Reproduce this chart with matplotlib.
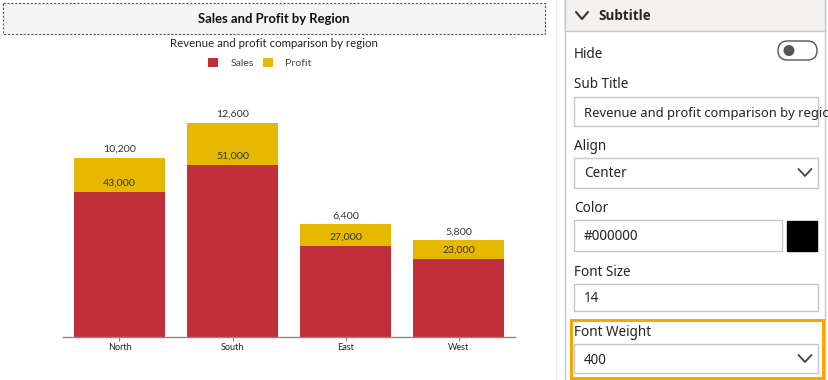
import matplotlib
matplotlib.use("Agg")
import matplotlib.pyplot as plt
from matplotlib.patches import Rectangle, FancyBboxPatch, Circle, Patch
import numpy as np

plt.rcParams['font.family'] = ['Noto Sans', 'DejaVu Sans']
CHART_FONT = ['Lato', 'DejaVu Sans']

# ---------------- data ----------------
regions = ["North", "South", "East", "West"]
sales = [43000, 51000, 27000, 23000]
profit = [10200, 12600, 6400, 5800]
title_text = "Sales and Profit by Region"
subtitle_text = "Revenue and profit comparison by region"
series_names = ["Sales", "Profit"]

SALES_C = "#C1303A"
PROFIT_C = "#E6B800"

W, H = 829, 380
DPI = 100
fig = plt.figure(figsize=(W / DPI, H / DPI), dpi=DPI)
PT = 72 / DPI  # px -> pt

# overlay axes in pixel coordinates (top-left origin)
ov = fig.add_axes([0, 0, 1, 1], zorder=0)
ov.set_xlim(0, W)
ov.set_ylim(H, 0)
ov.axis("off")

def rect(x0, y0, x1, y1, fc="white", ec="#c8c8c8", lw=1.0, ls="-", z=1):
    r = Rectangle((x0, y0), x1 - x0, y1 - y0, facecolor=fc, edgecolor=ec,
                  linewidth=lw, linestyle=ls, zorder=z)
    ov.add_patch(r)
    return r

def txt(x, y, s, size_px, color="#252423", weight="normal", ha="left", clip=None,
        family=None):
    kw = {}
    if family is not None:
        kw["family"] = family
    t = ov.text(x, y, s, fontsize=size_px * PT, color=color, weight=weight,
                ha=ha, va="center", zorder=5, **kw)
    if clip is not None:
        t.set_clip_path(clip)
    return t

def chevron(cx, cy, w=7, h=4, color="#444", lw=1.3):
    ov.plot([cx - w, cx, cx + w], [cy - h, cy + h, cy - h], color=color,
            lw=lw, solid_capstyle="round", solid_joinstyle="round", zorder=6)

# ---------------- chart header ----------------
rect(3, 3, 545, 34, fc="#f5f5f5", ec="#555555", lw=0.8, ls=(0, (2, 1.5)))
txt(274, 19, title_text, 13, color="#111111", weight="bold", ha="center",
    family=CHART_FONT)
txt(274, 43.5, subtitle_text, 11.5, color="#222222", ha="center", family=CHART_FONT)

# ---------------- chart axes ----------------
ax_l, ax_r, ax_top, ax_bot = 63, 515, 101, 337
ax = fig.add_axes([ax_l / W, 1 - ax_bot / H, (ax_r - ax_l) / W, (ax_bot - ax_top) / H],
                  zorder=2)
ax.patch.set_alpha(0)
x = np.arange(len(regions))
b1 = ax.bar(x, sales, width=0.8, color=SALES_C, zorder=2)
totals = [s + p for s, p in zip(sales, profit)]
b2 = ax.bar(x, profit, width=0.8, bottom=sales, color=PROFIT_C, zorder=2)
ax.set_xlim(-0.5, len(regions) - 0.5)
ax.set_ylim(0, 70000)
for sp in ["top", "right", "left"]:
    ax.spines[sp].set_visible(False)
ax.spines["bottom"].set_color("#888888")
ax.spines["bottom"].set_linewidth(1)
ax.set_yticks([])
ax.set_xticks(x)
ax.set_xticklabels(regions, fontsize=9 * PT, color="#222222", family=CHART_FONT)
ax.tick_params(axis="x", length=3, color="#888888", pad=1.5)

for xi, s, t, p in zip(x, sales, totals, profit):
    ax.annotate(f"{s:,}", (xi, s), xytext=(0, 4.5 * PT), textcoords="offset points",
                ha="center", va="bottom", fontsize=10.5 * PT, color="#333333", zorder=3,
                family=CHART_FONT)
    ax.annotate(f"{p:,}", (xi, t), xytext=(0, 3.5 * PT), textcoords="offset points",
                ha="center", va="bottom", fontsize=10.5 * PT, color="#333333", zorder=3,
                family=CHART_FONT)

handles = [Patch(facecolor=SALES_C), Patch(facecolor=PROFIT_C)]
fig.legend(handles, series_names, loc="center", bbox_to_anchor=(260 / W, 1 - 63 / H),
           ncol=2, frameon=False, prop={"family": CHART_FONT, "size": 10.5 * PT},
           handlelength=0.95, handleheight=0.95,
           handletextpad=1.2, columnspacing=0.8, labelcolor="#444444", borderpad=0)

# ---------------- settings panel ----------------
ov.plot([556, 556], [0, H], color="#ececec", lw=1, zorder=1)
rect(565.5, -2, 825, H + 2, fc="white", ec="#c8c6c4", lw=1)
rect(565.5, -2, 825, 31, fc="#f3f2f1", ec="#c8c6c4", lw=1, z=2)
chevron(582, 15.5, w=6, h=3.5, color="#333", lw=1.5)
txt(598, 16.5, "Subtitle", 13.5, color="#252423", weight="bold",
    family=['Open Sans', 'DejaVu Sans'])

LBL = 13.5
txt(574, 55, "Hide", LBL)
tog = FancyBboxPatch((778, 41), 39, 19, boxstyle="round,pad=0,rounding_size=9.5",
                     facecolor="white", edgecolor="#555555", lw=1, zorder=3)
ov.add_patch(tog)
ov.add_patch(Circle((789, 50.5), 5.5, facecolor="#555555", edgecolor="none", zorder=4))

txt(574, 85, "Sub Title", LBL)
r = rect(574, 97, 818, 126, fc="white", ec="#c8c6c4", lw=1, z=2)
clip_r = Rectangle((575, 97), 241, 29, transform=ov.transData)
txt(584, 113, subtitle_text, 13, clip=clip_r)

txt(574, 147, "Align", LBL)
rect(574, 158, 818, 187.5, fc="white", ec="#c8c6c4", lw=1, z=2)
txt(584, 173.5, "Center", LBL)
chevron(805, 172.5, w=6.5, h=3.5, color="#444", lw=1.3)

txt(574, 209, "Color", LBL)
rect(574, 220, 782, 251, fc="white", ec="#c8c6c4", lw=1, z=2)
txt(584, 237, "#000000", LBL)
rect(787, 221, 817, 251, fc="#000000", ec="#000000", lw=1, z=2)

txt(574, 273, "Font Size", LBL)
rect(574, 284, 818, 311, fc="white", ec="#c8c6c4", lw=1, z=2)
txt(584, 298.5, "14", LBL)

rect(571, 319.5, 823, 378, fc="none", ec="#F7A800", lw=2.2, z=4)
txt(574, 332, "Font Weight", LBL)
rect(574, 344, 818, 373, fc="white", ec="#c8c6c4", lw=1, z=2)
txt(584, 360, "400", LBL)
chevron(805, 358.5, w=6.5, h=3.5, color="#444", lw=1.3)

fig.savefig("out.png", dpi=DPI)
